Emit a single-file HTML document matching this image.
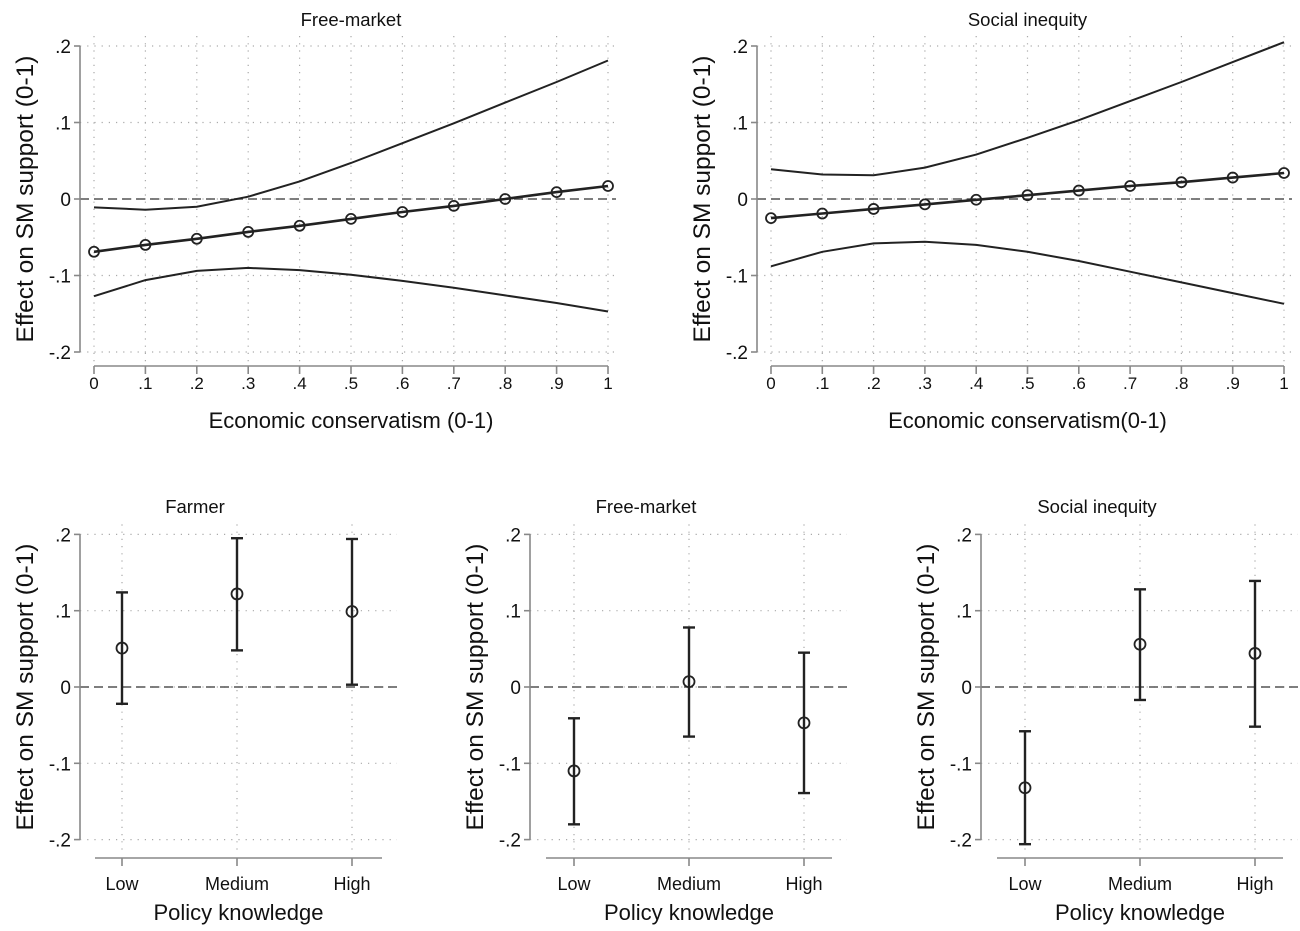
<!DOCTYPE html>
<html><head><meta charset="utf-8"><style>
body{margin:0;background:#fff}
svg{display:block;font-family:"Liberation Sans",Arial,sans-serif}
</style></head><body>
<svg id="fig" width="1300" height="931" viewBox="0 0 1300 931"></svg>
<script>
// ---- data ----
const xVals = [0,0.1,0.2,0.3,0.4,0.5,0.6,0.7,0.8,0.9,1];
const xTickLabels = ["0",".1",".2",".3",".4",".5",".6",".7",".8",".9","1"];
const yTicks = [0.2,0.1,0,-0.1,-0.2];
const yTickLabels = [".2",".1","0","-.1","-.2"];
const fmEst = [-0.069,-0.060,-0.052,-0.043,-0.035,-0.026,-0.017,-0.009,0.000,0.009,0.017];
const fmHi  = [-0.011,-0.014,-0.010,0.003,0.023,0.047,0.073,0.099,0.126,0.153,0.181];
const fmLo  = [-0.127,-0.106,-0.094,-0.090,-0.093,-0.099,-0.107,-0.116,-0.126,-0.136,-0.147];
const siEst = [-0.025,-0.019,-0.013,-0.007,-0.001,0.005,0.011,0.017,0.022,0.028,0.034];
const siHi  = [0.039,0.032,0.031,0.041,0.058,0.080,0.103,0.128,0.153,0.179,0.205];
const siLo  = [-0.088,-0.069,-0.058,-0.056,-0.060,-0.069,-0.081,-0.095,-0.109,-0.123,-0.137];
const knowCats = ["Low","Medium","High"];
const farmEst = [0.051,0.122,0.099];
const farmLo  = [-0.022,0.048,0.003];
const farmHi  = [0.124,0.195,0.194];
const fm2Est = [-0.110,0.007,-0.047];
const fm2Lo  = [-0.180,-0.065,-0.139];
const fm2Hi  = [-0.041,0.078,0.045];
const si2Est = [-0.132,0.056,0.044];
const si2Lo  = [-0.206,-0.017,-0.052];
const si2Hi  = [-0.058,0.128,0.139];

const NS="http://www.w3.org/2000/svg";
const svg=document.getElementById('fig');
function mk(tag,attrs,parent,text){const e=document.createElementNS(NS,tag);for(const k in attrs)e.setAttribute(k,attrs[k]);if(text!==undefined)e.textContent=text;(parent||svg).appendChild(e);return e;}

function frame(g,p,xTickPos,xLabels,xTitle){
  const y=p.y;
  yTicks.forEach(v=>{const l=mk('line',{x1:p.ax,x2:p.gridR,y1:y(v),y2:y(v),stroke:'#aaa','stroke-width':1.2,'stroke-dasharray':'1.2 6'},g);
    });
  xTickPos.forEach(x=>{const l=mk('line',{x1:x,x2:x,y1:p.gridT,y2:p.xAxisY-4,stroke:'#aaa','stroke-width':1.2,'stroke-dasharray':'1.2 6'},g);
    });
  const z=mk('line',{x1:p.ax,x2:p.gridR,y1:y(0),y2:y(0),stroke:'#555','stroke-width':1.6,'stroke-dasharray':'9 5'},g);
  
  const ya=mk('line',{x1:p.ax,x2:p.ax,y1:y(0.2),y2:y(-0.2),stroke:'#888','stroke-width':1.6},g);
  
  yTicks.forEach((v,i)=>{mk('line',{x1:p.ax-6,x2:p.ax,y1:y(v),y2:y(v),stroke:'#888','stroke-width':1.6},g);
    const t=mk('text',{x:p.ax-9,y:y(v)+7,'text-anchor':'end','font-size':19,fill:'#111'},g,yTickLabels[i]);
    });
  const yt=mk('text',{x:0,y:0,transform:`translate(${p.ax-47},${y(0)}) rotate(-90)`,'text-anchor':'middle','font-size':24.5,fill:'#111'},g,'Effect on SM support (0-1)');
  
  const xa=mk('line',{x1:p.xl,x2:p.xr,y1:p.xAxisY,y2:p.xAxisY,stroke:'#888','stroke-width':1.6},g);
  
  xTickPos.forEach((x,i)=>{mk('line',{x1:x,x2:x,y1:p.xAxisY,y2:p.xAxisY+8,stroke:'#888','stroke-width':1.6},g);
    const t=mk('text',{x:x,y:p.xLabY,'text-anchor':'middle','font-size':p.xfs,fill:'#111'},g,xLabels[i]);
    });
  const xt=mk('text',{x:(p.xl+p.xr)/2,y:p.xTitY,'text-anchor':'middle','font-size':22,fill:'#111'},g,xTitle);
  
  const tt=mk('text',{x:p.titleX,y:p.titleY,'text-anchor':'middle','font-size':18.5,fill:'#111'},g,p.title);
  
}

function linePanel(name,x0,x1,ax,title,est,hi,lo,xTitle){
  const g=mk('g',{});
  const y=v=>199-v*765;const x=v=>x0+v*(x1-x0);
  const p={y,ax,gridR:x1+8,gridT:y(0.2)-10,xAxisY:366,xLabY:389,xTitY:428,xl:x0,xr:x1,xfs:17,title,titleX:(x0+x1)/2,titleY:26};
  frame(g,p,xVals.map(x),xTickLabels,xTitle);
  const path=arr=>arr.map((v,i)=>(i?'L':'M')+x(xVals[i]).toFixed(1)+','+y(v).toFixed(1)).join(' ');
  [['upper-ci-line',hi,2],['lower-ci-line',lo,2],['estimate-line',est,2.6]].forEach(([n,a,w])=>{
    const l=mk('path',{d:path(a),fill:'none',stroke:'#222','stroke-width':w},g);
    });
  est.forEach((v,i)=>{const c=mk('circle',{cx:x(xVals[i]),cy:y(v),r:5,fill:'none',stroke:'#222','stroke-width':1.8},g);
    });
}

function barPanel(name,ax,xl,xr,cx0,title,titleX,est,lo,hi){
  const g=mk('g',{});
  const y=v=>687-v*763;const x=i=>cx0+i*115;
  const p={y,ax,gridR:xr+15,gridT:y(0.2)-10,xAxisY:858,xLabY:890,xTitY:920,xl,xr,xfs:18,title,titleX,titleY:513};
  frame(g,p,knowCats.map((c,i)=>x(i)),knowCats,'Policy knowledge');
  est.forEach((v,i)=>{
    const cx=x(i);
    const b=mk('line',{x1:cx,x2:cx,y1:y(hi[i]),y2:y(lo[i]),stroke:'#222','stroke-width':2.4},g);
    
    [hi[i],lo[i]].forEach(w=>{const c=mk('line',{x1:cx-6,x2:cx+6,y1:y(w),y2:y(w),stroke:'#222','stroke-width':2.4},g);
      });
    const c=mk('circle',{cx:cx,cy:y(v),r:5.5,fill:'none',stroke:'#222','stroke-width':1.8},g);
    
  });
}

linePanel('free-market-line-panel',94,608,80,'Free-market',fmEst,fmHi,fmLo,'Economic conservatism (0-1)');
linePanel('social-inequity-line-panel',771,1284,757,'Social inequity',siEst,siHi,siLo,'Economic conservatism(0-1)');
barPanel('farmer-panel',80,95,382,122,'Farmer',195,farmEst,farmLo,farmHi);
barPanel('free-market-knowledge-panel',530,546,832,574,'Free-market',646,fm2Est,fm2Lo,fm2Hi);
barPanel('social-inequity-knowledge-panel',981,997,1283,1025,'Social inequity',1097,si2Est,si2Lo,si2Hi);
</script>
</body></html>
